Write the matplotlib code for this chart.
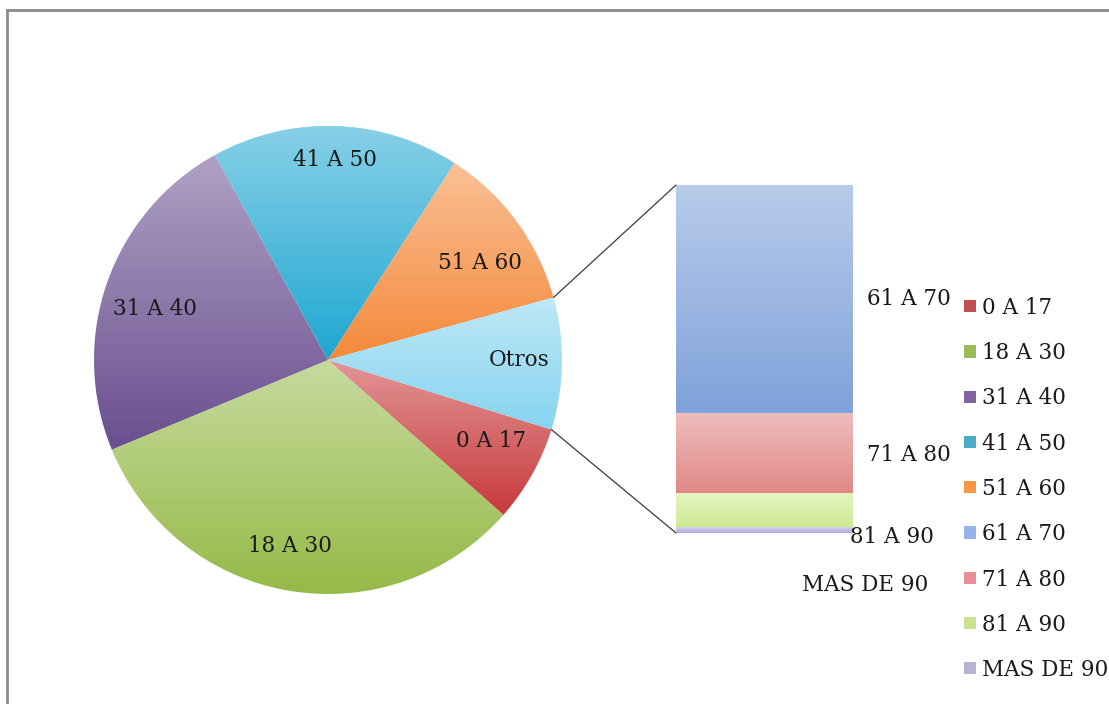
import numpy as np
import matplotlib
matplotlib.use("Agg")
import matplotlib.pyplot as plt
from matplotlib.patches import ConnectionPatch, Rectangle, Patch

# ---------------- data ----------------
pie_labels = ["0 A 17", "18 A 30", "31 A 40", "41 A 50", "51 A 60", "Otros"]
pie_values = [6.7, 32.2, 23.2, 17.1, 11.6, 9.1]
bar_labels = ["61 A 70", "71 A 80", "81 A 90", "MAS DE 90"]
bar_values = [5.97, 2.09, 0.89, 0.15]
legend_labels = ["0 A 17", "18 A 30", "31 A 40", "41 A 50", "51 A 60",
                 "61 A 70", "71 A 80", "81 A 90", "MAS DE 90"]

# ---------------- styles ----------------
pie_colors = ["#c8393b", "#95ba48", "#6a4f90", "#1fa7d2", "#f5893a", "#86d4f0"]
bar_colors = ["#7fa2da", "#e08887", "#cfeb92", "#b4a8de"]
legend_colors = ["#c0504d", "#9bbb59", "#8064a2", "#4bacc6", "#f79646",
                 "#95b3e6", "#e98e94", "#c9e190", "#b7b3d3"]
# label placement (radial distance, angle offset in degrees) per pie slice
label_dist = [0.78, 0.81, 0.77, 0.855, 0.77, 0.815]
label_dang = [3.0, -2.2, 3.0, 0.0, -3.7, 0.85]

plt.rcParams['font.family'] = ['DejaVu Serif', 'Liberation Serif']
FS = 15.5
TXT = "#1a1a1a"

W, H = 1109, 704
fig = plt.figure(figsize=(W / 100, H / 100), dpi=100)
fig.patch.set_facecolor("white")

# chart frame (top and left visible)
fig.add_artist(Rectangle((7 / W, -0.1), 1.2, (H - 10) / H + 0.1,
                         transform=fig.transFigure, fill=False,
                         ec="#8a8a8a", lw=2))


def gradient_img(alpha_top, alpha_bot=0.0, n=256):
    a = np.linspace(alpha_top, alpha_bot, n)
    img = np.ones((n, 1, 4))
    img[:, 0, 3] = a
    return img


# ---------------- pie ----------------
cx, cy, r = 328, 360, 234
ax1 = fig.add_axes([(cx - r) / W, (H - cy - r) / H, 2 * r / W, 2 * r / H])
wedges, texts = ax1.pie(pie_values, colors=pie_colors, startangle=-17.3,
                        counterclock=False, labels=pie_labels,
                        labeldistance=0.8, radius=1,
                        wedgeprops=dict(linewidth=0),
                        textprops=dict(fontsize=FS, color=TXT))
for t, w, d, da in zip(texts, wedges, label_dist, label_dang):
    mid = np.deg2rad((w.theta1 + w.theta2) / 2 + da)
    t.set_position((d * np.cos(mid), d * np.sin(mid)))
    t.set_ha("center")
    t.set_va("center")
    t.set_zorder(5)

for w in wedges:
    ext = w.get_path().get_extents(w.get_patch_transform())
    im = ax1.imshow(gradient_img(0.47, 0.0), extent=(ext.x0, ext.x1, ext.y0, ext.y1),
                    origin="upper", aspect="auto", zorder=3, interpolation="bilinear")
    im.set_clip_path(w)
ax1.set_xlim(-1, 1)
ax1.set_ylim(-1, 1)
ax1.set_aspect("equal")
ax1.axis("off")

# ---------------- bar of pie ----------------
bx0, bx1, by0, by1 = 676, 853, 185, 533
ax2 = fig.add_axes([bx0 / W, (H - by1) / H, (bx1 - bx0) / W, (by1 - by0) / H])
total = sum(bar_values)
bottom = total
for val, col in zip(bar_values, bar_colors):
    bottom -= val
    b = ax2.bar(0, val, width=1, bottom=bottom, color=col, lw=0, zorder=2)[0]
    im = ax2.imshow(gradient_img(0.45, 0.0), extent=(-0.5, 0.5, bottom, bottom + val),
                    origin="upper", aspect="auto", zorder=3, interpolation="bilinear")
    im.set_clip_path(b)
ax2.set_xlim(-0.5, 0.5)
ax2.set_ylim(0, total)
ax2.axis("off")

# bar labels (offsets in pixels from the right edge / segment centre)
label_offsets = [(56, 0), (56, -2), (39, -27), (12, -55)]
bottom = total
for lab, val, off in zip(bar_labels, bar_values, label_offsets):
    bottom -= val
    ax2.annotate(lab, xy=(0.5, bottom + val / 2), xytext=off,
                 textcoords="offset pixels", ha="center", va="center",
                 fontsize=FS, color=TXT, annotation_clip=False)

# connector lines
ow = wedges[-1]
angs = [np.deg2rad(ow.theta1), np.deg2rad(ow.theta2)]
angs.sort(key=lambda a: np.sin(a))
low, high = angs
for ang, yb in ((high, total), (low, 0)):
    con = ConnectionPatch(xyA=(-0.5, yb), coordsA=ax2.transData,
                          xyB=(np.cos(ang), np.sin(ang)), coordsB=ax1.transData,
                          color="#3a3a3a", lw=0.9)
    fig.add_artist(con)

# ---------------- legend ----------------
handles = [Patch(facecolor=c, edgecolor="none") for c in legend_colors]
fig.legend(handles, legend_labels, loc="upper left",
           bbox_to_anchor=(964 / W, (H - 297) / H), frameon=False,
           fontsize=FS, labelspacing=1.08, handlelength=0.55, handleheight=0.5,
           handletextpad=0.3, borderpad=0, borderaxespad=0, labelcolor=TXT)

fig.savefig("out.png", dpi=100, facecolor="white")
